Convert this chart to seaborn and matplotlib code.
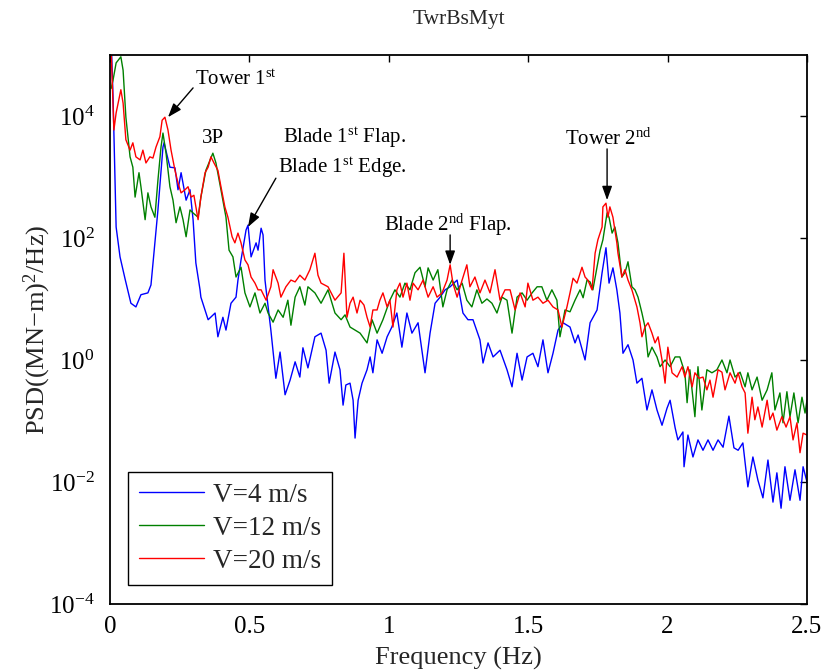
import numpy as np
import pandas as pd
import matplotlib
matplotlib.use("Agg")
import matplotlib.pyplot as plt
from matplotlib.ticker import NullLocator, FixedLocator
import seaborn as sns

# ---------------------------------------------------------------------------
# Tower-base fore-aft moment spectra (log10 of PSD, (MN-m)^2/Hz) per wind speed
# ---------------------------------------------------------------------------
speeds = ["V=4 m/s", "V=12 m/s", "V=20 m/s"]
colors = ["#0000ff", "#008000", "#ff0000"]

freq_v4 = [
    0.004, 0.011, 0.014, 0.022, 0.036, 0.054, 0.075, 0.093, 0.111, 0.136,
    0.147, 0.172, 0.190, 0.194, 0.215, 0.233, 0.244, 0.255, 0.273, 0.287,
    0.298, 0.308, 0.323, 0.326, 0.352, 0.377, 0.387, 0.405, 0.416, 0.434,
    0.452, 0.459, 0.470, 0.488, 0.495, 0.506, 0.524, 0.531, 0.542, 0.549,
    0.556, 0.560, 0.577, 0.595, 0.610, 0.628, 0.646, 0.664, 0.681, 0.692,
    0.710, 0.735, 0.757, 0.775, 0.786, 0.807, 0.825, 0.836, 0.846, 0.861,
    0.872, 0.879, 0.890, 0.904, 0.922, 0.933, 0.943, 0.958, 0.976, 0.994,
    1.011, 1.029, 1.047, 1.065, 1.083, 1.105, 1.130, 1.148, 1.166, 1.184,
    1.202, 1.220, 1.245, 1.266, 1.284, 1.302, 1.327, 1.338, 1.356, 1.374,
    1.399, 1.424, 1.442, 1.460, 1.478, 1.496, 1.517, 1.535, 1.553, 1.571,
    1.589, 1.607, 1.625, 1.650, 1.668, 1.679, 1.704, 1.722, 1.747, 1.765,
    1.779, 1.790, 1.804, 1.818, 1.829, 1.840, 1.858, 1.876, 1.890, 1.908,
    1.926, 1.944, 1.962, 1.980, 1.998, 2.009, 2.027, 2.037, 2.055, 2.059,
    2.073, 2.091, 2.109, 2.127, 2.145, 2.163, 2.181, 2.199, 2.220, 2.238,
    2.253, 2.270, 2.288, 2.306, 2.324, 2.342, 2.360, 2.378, 2.392, 2.407,
    2.421, 2.439, 2.457, 2.475, 2.486, 2.500,
]
log_psd_v4 = [
    5.30, 4.30, 3.72, 2.18, 1.69, 1.33, 0.93, 0.87, 1.07, 1.10,
    1.23, 2.46, 3.49, 3.56, 3.16, 3.15, 2.79, 3.07, 2.62, 2.79,
    2.30, 1.59, 1.15, 1.03, 0.66, 0.77, 0.38, 0.70, 0.49, 0.93,
    1.03, 1.31, 1.64, 2.13, 2.21, 1.69, 1.92, 1.80, 2.16, 2.05,
    1.31, 1.15, 0.49, -0.30, 0.13, -0.57, -0.33, -0.03, -0.28, 0.20,
    -0.13, 0.38, 0.44, 0.16, -0.38, 0.13, -0.16, -0.74, -0.41, -0.38,
    -0.66, -1.28, -0.66, -0.38, -0.16, 0.05, -0.21, 0.33, 0.11, 0.38,
    0.54, 0.77, 0.21, 0.77, 0.44, 0.61, -0.21, 0.44, 0.93, 1.03,
    1.15, 1.20, 1.31, 0.77, 0.66, 0.66, 0.33, -0.05, 0.28, 0.05,
    0.16, -0.16, -0.44, 0.11, -0.33, 0.05, 0.11, -0.11, 0.33, -0.21,
    0.11, 0.49, 0.61, 0.54, 0.28, 0.41, 0.00, 0.61, 0.82, 1.43,
    1.84, 1.26, 1.51, 1.15, 0.77, 0.11, 0.25, 0.00, -0.38, -0.30,
    -0.82, -0.49, -0.82, -1.07, -0.79, -0.66, -1.11, -1.31, -1.18, -1.75,
    -1.23, -1.59, -1.31, -1.48, -1.31, -1.48, -1.31, -1.43, -0.92, -1.44,
    -1.48, -1.36, -2.08, -1.59, -1.97, -2.26, -1.64, -2.33, -1.85, -2.43,
    -1.75, -2.30, -1.80, -2.30, -1.75, -2.00,
]

freq_v12 = [
    0.004, 0.011, 0.022, 0.039, 0.047, 0.057, 0.072, 0.082, 0.090, 0.104,
    0.111, 0.126, 0.136, 0.147, 0.161, 0.172, 0.183, 0.190, 0.201, 0.215,
    0.226, 0.237, 0.251, 0.262, 0.273, 0.287, 0.298, 0.316, 0.326, 0.344,
    0.359, 0.369, 0.380, 0.398, 0.416, 0.427, 0.441, 0.452, 0.470, 0.484,
    0.502, 0.520, 0.538, 0.556, 0.567, 0.585, 0.603, 0.621, 0.638, 0.649,
    0.664, 0.681, 0.699, 0.710, 0.735, 0.757, 0.782, 0.807, 0.829, 0.843,
    0.861, 0.879, 0.897, 0.922, 0.940, 0.958, 0.979, 1.004, 1.022, 1.040,
    1.058, 1.076, 1.094, 1.112, 1.130, 1.141, 1.159, 1.176, 1.194, 1.209,
    1.227, 1.245, 1.263, 1.280, 1.298, 1.316, 1.334, 1.352, 1.370, 1.388,
    1.406, 1.424, 1.442, 1.460, 1.478, 1.496, 1.514, 1.532, 1.549, 1.567,
    1.585, 1.603, 1.614, 1.632, 1.650, 1.668, 1.686, 1.697, 1.711, 1.722,
    1.732, 1.747, 1.758, 1.768, 1.783, 1.790, 1.801, 1.811, 1.822, 1.836,
    1.847, 1.858, 1.872, 1.883, 1.894, 1.908, 1.919, 1.930, 1.944, 1.962,
    1.973, 1.991, 2.009, 2.027, 2.044, 2.062, 2.070, 2.080, 2.098, 2.109,
    2.123, 2.141, 2.159, 2.177, 2.195, 2.213, 2.224, 2.242, 2.260, 2.278,
    2.288, 2.303, 2.321, 2.339, 2.357, 2.374, 2.385, 2.403, 2.414, 2.428,
    2.439, 2.453, 2.468, 2.482, 2.493, 2.500,
]
log_psd_v12 = [
    4.45, 4.59, 4.87, 4.97, 4.75, 3.98, 3.33, 3.16, 2.67, 3.07,
    2.84, 2.30, 2.74, 2.51, 2.34, 2.95, 3.49, 3.72, 3.39, 2.84,
    2.62, 2.25, 2.51, 2.30, 2.02, 2.46, 2.41, 2.34, 2.67, 3.11,
    3.28, 3.39, 3.23, 2.79, 2.34, 1.80, 1.69, 1.36, 1.52, 1.10,
    0.87, 1.10, 0.77, 0.93, 0.77, 0.62, 0.82, 0.70, 0.98, 0.57,
    1.03, 1.20, 0.90, 1.20, 1.10, 0.93, 1.15, 0.77, 0.66, 0.74,
    0.54, 0.49, 0.44, 0.28, 0.66, 0.44, 0.66, 0.98, 1.15, 1.03,
    1.26, 1.15, 1.43, 1.52, 1.20, 1.51, 1.31, 1.48, 0.87, 1.15,
    1.31, 1.15, 1.26, 0.98, 0.87, 1.15, 0.93, 1.00, 0.93, 0.77,
    1.03, 0.98, 0.44, 1.03, 1.10, 0.98, 1.10, 1.20, 1.20, 0.98,
    1.15, 0.98, 0.38, 0.82, 0.79, 0.98, 1.15, 1.02, 1.31, 1.28,
    1.15, 1.52, 1.80, 1.97, 2.41, 2.34, 2.08, 2.18, 1.92, 1.36,
    1.43, 1.61, 1.20, 1.15, 1.03, 0.77, 0.54, 0.05, 0.21, 0.05,
    -0.11, 0.00, -0.11, 0.05, 0.05, -0.21, -0.70, -0.16, -0.93, -0.11,
    -0.82, -0.16, -0.21, -0.16, 0.00, -0.21, 0.00, -0.28, -0.20, -0.44,
    -0.21, -0.49, -0.28, -0.66, -0.49, -0.21, -0.82, -0.54, -1.03, -0.52,
    -0.93, -0.54, -1.03, -0.61, -0.87, -0.66,
]

freq_v20 = [
    0.004, 0.014, 0.022, 0.039, 0.047, 0.057, 0.072, 0.082, 0.093, 0.108,
    0.118, 0.129, 0.143, 0.154, 0.165, 0.179, 0.187, 0.197, 0.208, 0.219,
    0.233, 0.244, 0.255, 0.269, 0.280, 0.291, 0.301, 0.316, 0.326, 0.341,
    0.352, 0.362, 0.373, 0.387, 0.398, 0.412, 0.423, 0.438, 0.448, 0.459,
    0.470, 0.484, 0.495, 0.506, 0.520, 0.531, 0.542, 0.560, 0.577, 0.585,
    0.603, 0.613, 0.631, 0.649, 0.664, 0.681, 0.699, 0.717, 0.735, 0.746,
    0.757, 0.782, 0.807, 0.829, 0.839, 0.850, 0.861, 0.872, 0.886, 0.897,
    0.911, 0.922, 0.933, 0.943, 0.958, 0.968, 0.979, 0.994, 1.004, 1.015,
    1.029, 1.040, 1.051, 1.065, 1.076, 1.087, 1.105, 1.123, 1.141, 1.159,
    1.173, 1.191, 1.209, 1.220, 1.230, 1.245, 1.263, 1.280, 1.291, 1.309,
    1.327, 1.345, 1.363, 1.381, 1.399, 1.417, 1.435, 1.453, 1.471, 1.489,
    1.499, 1.517, 1.535, 1.553, 1.571, 1.589, 1.607, 1.621, 1.639, 1.650,
    1.661, 1.675, 1.693, 1.704, 1.714, 1.729, 1.740, 1.750, 1.765, 1.768,
    1.779, 1.786, 1.793, 1.804, 1.818, 1.822, 1.836, 1.847, 1.858, 1.872,
    1.890, 1.901, 1.908, 1.919, 1.930, 1.944, 1.955, 1.966, 1.980, 1.991,
    2.001, 2.016, 2.034, 2.052, 2.062, 2.073, 2.088, 2.098, 2.113, 2.127,
    2.141, 2.152, 2.163, 2.181, 2.195, 2.206, 2.224, 2.242, 2.253, 2.267,
    2.278, 2.288, 2.303, 2.313, 2.324, 2.339, 2.357, 2.367, 2.378, 2.392,
    2.410, 2.425, 2.439, 2.450, 2.464, 2.475, 2.486, 2.500,
]
log_psd_v20 = [
    5.10, 3.77, 4.05, 4.43, 4.21, 3.61, 3.44, 3.56, 3.33, 3.28,
    3.44, 3.23, 3.33, 3.31, 3.49, 3.66, 3.93, 3.98, 3.77, 3.44,
    3.11, 2.90, 2.74, 2.79, 2.84, 2.67, 2.70, 2.30, 2.67, 3.07,
    3.16, 3.33, 3.23, 3.11, 2.84, 2.51, 2.34, 2.02, 1.92, 2.08,
    1.92, 1.64, 1.56, 1.36, 1.26, 1.15, 1.15, 0.98, 1.20, 1.48,
    1.26, 1.03, 1.20, 1.31, 1.28, 1.39, 1.31, 1.48, 1.75, 1.39,
    1.26, 1.20, 0.98, 1.10, 1.75, 0.70, 0.93, 1.03, 0.77, 0.98,
    0.90, 0.70, 0.54, 0.82, 0.82, 0.98, 1.10, 0.87, 0.98, 0.54,
    1.15, 1.26, 1.03, 1.26, 0.98, 1.26, 1.15, 1.31, 1.03, 1.20,
    1.03, 1.10, 1.31, 1.56, 1.26, 1.03, 1.31, 1.56, 1.20, 1.36,
    1.10, 1.31, 1.10, 1.48, 0.98, 1.15, 1.15, 0.82, 1.10, 0.87,
    1.26, 0.98, 1.03, 0.93, 0.98, 0.87, 0.82, 0.54, 0.87, 1.10,
    1.34, 1.26, 1.52, 1.36, 1.31, 1.15, 1.75, 1.97, 2.18, 2.51,
    2.57, 2.34, 2.51, 2.34, 1.92, 1.75, 1.36, 1.48, 1.31, 1.15,
    0.87, 0.61, 0.38, 0.54, 0.61, 0.44, 0.28, 0.38, 0.00, -0.38,
    0.21, -0.21, -0.28, -0.11, -0.28, -0.11, -0.44, -0.21, -0.30, -0.28,
    -0.49, -0.33, -0.61, -0.16, -0.20, -0.49, -0.21, -0.38, -0.21, -0.44,
    -0.54, -1.20, -0.61, -0.98, -0.77, -1.10, -0.66, -0.98, -0.87, -1.15,
    -0.93, -1.10, -0.93, -1.31, -1.03, -1.52, -1.20, -1.23,
]

x_ticks = [0, 0.5, 1, 1.5, 2, 2.5]
x_tick_labels = ["0", "0.5", "1", "1.5", "2", "2.5"]
y_ticks = [1e-4, 1e-2, 1e0, 1e2, 1e4]

# ---------------------------------------------------------------------------
# Style
# ---------------------------------------------------------------------------
sns.set_theme(style="white")
plt.rcParams.update({
    "font.family": ["Liberation Serif", "DejaVu Serif"],
    "mathtext.fontset": "custom",
    "mathtext.rm": "Liberation Serif",
    "mathtext.it": "Liberation Serif:italic",
    "mathtext.bf": "Liberation Serif:bold",
    "axes.edgecolor": "black",
    "axes.linewidth": 1.3,
    "axes.facecolor": "white",
    "figure.facecolor": "white",
})

frames = []
for name, f, lp in zip(speeds,
                       [freq_v4, freq_v12, freq_v20],
                       [log_psd_v4, log_psd_v12, log_psd_v20]):
    frames.append(pd.DataFrame({
        "Frequency": f,
        "PSD": np.power(10.0, np.asarray(lp)),
        "Speed": name,
    }))
df = pd.concat(frames, ignore_index=True)

fig = plt.figure(figsize=(8.27, 6.72), dpi=100)
ax = fig.add_axes([0.1330, 0.1012, 0.8428, 0.8170])

sns.lineplot(data=df, x="Frequency", y="PSD", hue="Speed",
             hue_order=speeds, palette=colors, estimator=None,
             sort=False, linewidth=1.0, ax=ax)

ax.set_yscale("log")
ax.set_xlim(0, 2.5)
ax.set_ylim(1e-4, 1e5)
ax.xaxis.set_major_locator(FixedLocator(x_ticks))
ax.set_xticklabels(x_tick_labels)
ax.yaxis.set_major_locator(FixedLocator(y_ticks))
ax.yaxis.set_minor_locator(NullLocator())
ax.xaxis.set_minor_locator(NullLocator())
ax.tick_params(axis="both", which="major", direction="in", top=True,
               right=True, length=5, width=1.0, color="black",
               labelsize=18, labelcolor="black")
ax.tick_params(axis="x", pad=9)
ax.tick_params(axis="y", pad=11)
for side in ["left", "right", "top", "bottom"]:
    ax.spines[side].set_visible(True)
    ax.spines[side].set_color("black")

ax.set_xlabel("Frequency (Hz)", fontsize=19, labelpad=6)
ax.set_ylabel("PSD((MN\u2212m)$^2$/Hz)", fontsize=19, labelpad=-3)
ax.set_title("TwrBsMyt", fontsize=15.5, pad=22)

# Legend
handles, labels = ax.get_legend_handles_labels()
leg = ax.legend(handles, labels, loc="lower left",
                bbox_to_anchor=(0.026, 0.035), borderaxespad=0,
                fontsize=19.5, frameon=True, fancybox=False,
                edgecolor="black", framealpha=1, handlelength=2.4,
                handletextpad=0.35, labelspacing=0.3, borderpad=0.4)
leg.get_frame().set_linewidth(1.0)

# Mode annotations
text_kw = dict(fontsize=15, ha="left", va="baseline", color="black")
arrow_kw = dict(arrowstyle="-|>,head_length=0.7,head_width=0.25",
                color="black", lw=1.0, shrinkA=0, shrinkB=0)

ax.text(0.305, 10 ** 4.51, "Tower 1$^{\\mathrm{st}}$", **text_kw)
ax.annotate("", xy=(0.208, 10 ** 3.98), xytext=(0.298, 10 ** 4.46),
            arrowprops=arrow_kw)

ax.text(0.330, 10 ** 3.56, "3P", **text_kw)

ax.text(0.620, 10 ** 3.56, "Blade 1$^{\\mathrm{st}}$ Flap.", **text_kw)
ax.text(0.603, 10 ** 3.07, "Blade 1$^{\\mathrm{st}}$ Edge.", **text_kw)
ax.annotate("", xy=(0.495, 10 ** 2.18), xytext=(0.595, 10 ** 2.98),
            arrowprops=arrow_kw)

ax.text(0.983, 10 ** 2.11, "Blade 2$^{\\mathrm{nd}}$ Flap.", **text_kw)
ax.annotate("", xy=(1.220, 10 ** 1.56), xytext=(1.220, 10 ** 2.05),
            arrowprops=arrow_kw)

ax.text(1.632, 10 ** 3.52, "Tower 2$^{\\mathrm{nd}}$", **text_kw)
ax.annotate("", xy=(1.783, 10 ** 2.62), xytext=(1.783, 10 ** 3.46),
            arrowprops=arrow_kw)

fig.savefig("out.png", dpi=100)
